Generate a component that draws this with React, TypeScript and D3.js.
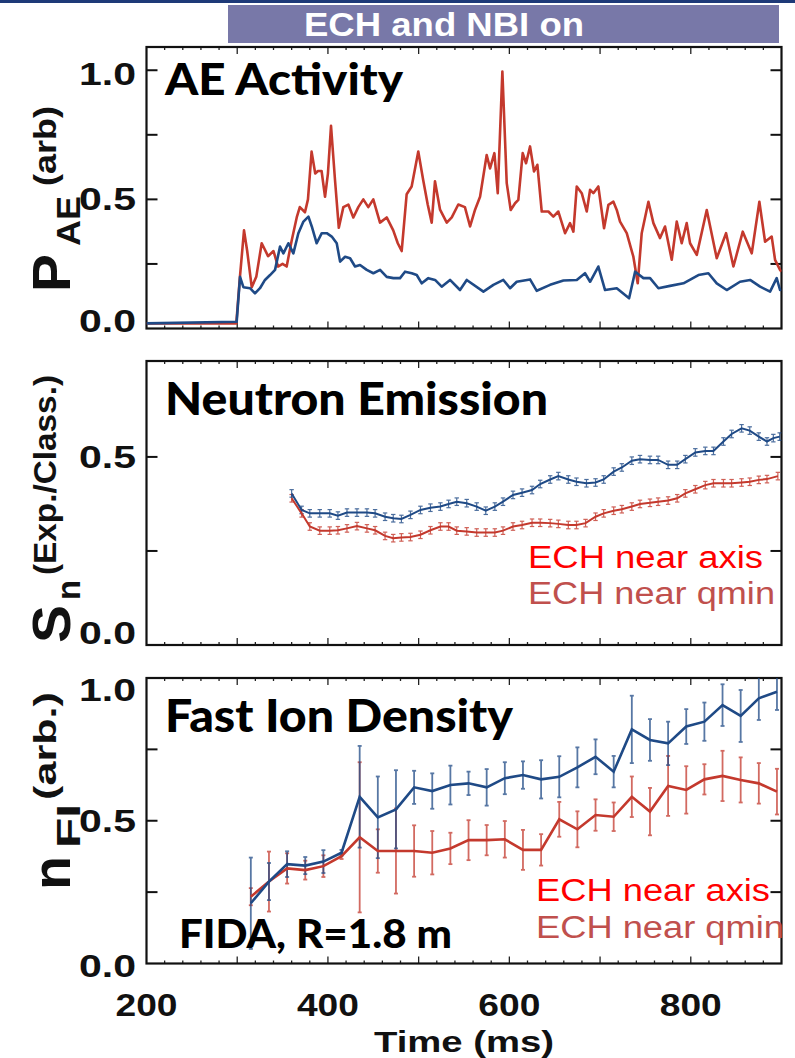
import React from "react";
import * as d3 from "d3";

// ---------- DATA ----------
// Panel 1: AE activity (arb)
const aeRedT = [200, 250, 299, 303, 307.5, 311, 316, 321, 327, 334, 340, 345, 350, 354.5, 360, 365.6, 369, 374.7, 378, 382, 386, 389, 393, 396.8, 400, 403.4, 407.8, 412, 417, 422.5, 428, 433.5, 439, 444.5, 450, 457.4, 464.8, 472, 477, 481.3, 486.8, 492.3, 499.6, 505, 510, 514.4, 518, 523.6, 531, 536.5, 543.7, 551, 556.7, 562.2, 567.7, 575, 578.7, 583.5, 587.2, 592.3, 597.1, 601.5, 606.3, 609.9, 614.7, 618.4, 622.8, 627.2, 630.9, 635.7, 643, 648.5, 654, 661.4, 666.9, 670.6, 674.3, 679.8, 685.3, 689, 692.6, 698.1, 704.4, 709.2, 714.7, 718.4, 722, 729.4, 736.7, 741.5, 745.9, 753.3, 758.8, 766.1, 771.6, 779, 784.5, 790, 795.5, 799.2, 806.6, 817.6, 828.6, 838.9, 847, 857.3, 867.2, 875.6, 881.9, 889.2, 892.9, 898.4, 900];
const aeRedV = [0.02, 0.02, 0.02, 0.2, 0.38, 0.3, 0.16, 0.2, 0.33, 0.28, 0.3, 0.24, 0.25, 0.24, 0.34, 0.43, 0.47, 0.45, 0.5, 0.685, 0.6, 0.61, 0.61, 0.51, 0.6, 0.785, 0.575, 0.39, 0.47, 0.48, 0.43, 0.47, 0.5, 0.47, 0.5, 0.41, 0.43, 0.38, 0.33, 0.3, 0.52, 0.55, 0.685, 0.575, 0.48, 0.41, 0.57, 0.46, 0.41, 0.43, 0.48, 0.47, 0.395, 0.46, 0.51, 0.672, 0.62, 0.679, 0.524, 0.995, 0.563, 0.459, 0.485, 0.498, 0.679, 0.64, 0.705, 0.608, 0.634, 0.453, 0.453, 0.433, 0.453, 0.369, 0.408, 0.375, 0.55, 0.524, 0.453, 0.537, 0.524, 0.55, 0.388, 0.479, 0.491, 0.459, 0.414, 0.369, 0.278, 0.175, 0.369, 0.491, 0.408, 0.35, 0.395, 0.266, 0.414, 0.33, 0.408, 0.33, 0.285, 0.459, 0.272, 0.369, 0.24, 0.375, 0.291, 0.491, 0.336, 0.356, 0.266, 0.227, 0.22];
const aeBlueT = [200, 299.4, 303.1, 306.8, 314.1, 319.6, 325.1, 330.6, 336.2, 341.7, 347.2, 350.9, 356.4, 361.9, 367.4, 373, 378.5, 382.2, 387.6, 393.2, 398.7, 404.2, 409.7, 413.4, 418.9, 424.4, 429.9, 435.4, 442.8, 450.1, 457.5, 464.8, 472.2, 479.5, 485, 492.4, 497.9, 503.4, 510.7, 518.1, 525.4, 534.6, 545.6, 553, 571.4, 582.4, 593.4, 600.8, 608.1, 622.8, 630.2, 644.9, 659.6, 674.3, 683.4, 689, 698.1, 705.5, 718.4, 732, 738.6, 747.8, 755.1, 764.3, 777.1, 791.9, 808.4, 819.4, 828.6, 839.6, 854.3, 865.4, 876.4, 887.4, 894.7, 898.4, 900];
const aeBlueV = [0.02, 0.026, 0.2, 0.16, 0.156, 0.136, 0.156, 0.188, 0.207, 0.227, 0.317, 0.291, 0.33, 0.291, 0.369, 0.414, 0.433, 0.395, 0.33, 0.369, 0.369, 0.356, 0.33, 0.259, 0.278, 0.272, 0.24, 0.246, 0.227, 0.214, 0.227, 0.2, 0.195, 0.195, 0.22, 0.214, 0.207, 0.175, 0.195, 0.188, 0.162, 0.188, 0.149, 0.188, 0.143, 0.169, 0.188, 0.156, 0.181, 0.19, 0.146, 0.169, 0.186, 0.188, 0.214, 0.181, 0.24, 0.149, 0.156, 0.117, 0.22, 0.195, 0.195, 0.156, 0.165, 0.175, 0.207, 0.214, 0.175, 0.149, 0.181, 0.188, 0.162, 0.143, 0.195, 0.149, 0.15];

// Panel 2: neutron emission S_n (Exp./Class.)
const snBlueT = [360, 371, 380, 391, 402, 411, 421, 432, 443, 452, 463, 472, 481, 491, 502, 513, 524, 533, 542, 553, 564, 574, 584, 593, 604, 614, 625, 634, 645, 654, 665, 674, 685, 695, 704, 715, 724, 735, 744, 755, 764, 775, 785, 794, 805, 816, 825, 836, 845, 856, 865, 875, 884, 891, 898];
const snBlueV = [0.403, 0.359, 0.35, 0.35, 0.35, 0.344, 0.352, 0.352, 0.352, 0.35, 0.341, 0.337, 0.335, 0.346, 0.359, 0.365, 0.368, 0.375, 0.381, 0.377, 0.368, 0.357, 0.368, 0.381, 0.399, 0.405, 0.412, 0.428, 0.44, 0.449, 0.44, 0.434, 0.43, 0.432, 0.44, 0.461, 0.472, 0.49, 0.494, 0.492, 0.492, 0.479, 0.479, 0.494, 0.512, 0.516, 0.516, 0.541, 0.561, 0.576, 0.57, 0.554, 0.541, 0.55, 0.554];
const snRedT = [360, 371, 380, 391, 402, 411, 421, 432, 443, 452, 463, 472, 481, 491, 502, 513, 524, 533, 542, 553, 564, 574, 584, 593, 604, 614, 625, 634, 645, 654, 665, 674, 684, 695, 704, 715, 724, 735, 744, 755, 764, 775, 785, 794, 805, 816, 825, 836, 845, 856, 865, 875, 884, 896];
const snRedV = [0.39, 0.35, 0.315, 0.304, 0.304, 0.305, 0.31, 0.316, 0.31, 0.305, 0.29, 0.284, 0.286, 0.287, 0.293, 0.305, 0.315, 0.315, 0.304, 0.302, 0.299, 0.299, 0.299, 0.304, 0.315, 0.319, 0.325, 0.325, 0.324, 0.322, 0.319, 0.319, 0.324, 0.341, 0.35, 0.357, 0.361, 0.368, 0.375, 0.378, 0.381, 0.384, 0.39, 0.403, 0.414, 0.425, 0.43, 0.43, 0.43, 0.432, 0.434, 0.439, 0.441, 0.449];
const snErr = 0.01;

// Panel 3: fast ion density (FIDA)
const fiT = [315, 335, 355, 375, 395, 415, 435, 455, 475, 495, 515, 535, 555, 575, 595, 615, 635, 655, 675, 695, 715, 735, 755, 775, 795, 815, 835, 855, 875, 895];
const fiBlueV = [0.211, 0.287, 0.348, 0.343, 0.357, 0.388, 0.584, 0.512, 0.54, 0.617, 0.604, 0.625, 0.631, 0.617, 0.649, 0.66, 0.645, 0.654, 0.687, 0.724, 0.672, 0.82, 0.783, 0.771, 0.83, 0.847, 0.905, 0.867, 0.929, 0.952];
const fiBlueE = [0.16, 0.065, 0.045, 0.03, 0.04, 0.01, 0.178, 0.143, 0.137, 0.058, 0.062, 0.068, 0.041, 0.064, 0.056, 0.048, 0.067, 0.072, 0.07, 0.061, 0.055, 0.118, 0.073, 0.076, 0.061, 0.067, 0.073, 0.091, 0.076, 0.064];
const fiRedV = [0.234, 0.287, 0.333, 0.327, 0.341, 0.376, 0.442, 0.394, 0.394, 0.394, 0.388, 0.403, 0.432, 0.432, 0.435, 0.398, 0.398, 0.505, 0.47, 0.52, 0.514, 0.584, 0.532, 0.622, 0.608, 0.645, 0.657, 0.643, 0.631, 0.602];
const fiRedE = [0.03, 0.105, 0.053, 0.033, 0.038, 0.01, 0.263, 0.076, 0.149, 0.09, 0.076, 0.055, 0.07, 0.053, 0.064, 0.07, 0.055, 0.061, 0.063, 0.055, 0.05, 0.071, 0.083, 0.105, 0.083, 0.053, 0.088, 0.079, 0.071, 0.08];

const xTickLabels = [200, 400, 600, 800];
const p1YLabels = [0, 0.5, 1.0];
const p2YLabels = [0, 0.5];
const p3YLabels = [0, 0.5, 1.0];

// ---------- STYLE ----------
const RED = "#c4392d";
const BLUE = "#1f4a86";
const W = 795;
const H = 1058;
const X0 = 146.5;
const X1 = 781.5;
const ARIAL = "Liberation Sans, Arial, sans-serif";
const TITLE = "Lato, 'Open Sans', sans-serif";

const x = d3.scaleLinear().domain([200, 900]).range([X0, X1]);

type Panel = { top: number; bottom: number; ymax: number; yTicks: number[]; labels: number[]; labelDy: number[] };

const panels: Panel[] = [
  { top: 47, bottom: 328.5, ymax: 1.09, yTicks: [0.25, 0.5, 0.75, 1.0], labels: p1YLabels, labelDy: [-8, 0, 4] },
  { top: 361, bottom: 645, ymax: 0.755, yTicks: [0.25, 0.5], labels: p2YLabels, labelDy: [-12, 0] },
  { top: 678, bottom: 963.5, ymax: 1.0, yTicks: [0.25, 0.5, 0.75], labels: p3YLabels, labelDy: [2, 0, 12] },
];

function Frame({ p, id }: { p: Panel; id: string }) {
  const y = d3.scaleLinear().domain([0, p.ymax]).range([p.bottom, p.top]);
  const xt = d3.range(220, 900, 20);
  return (
    <g>
      <defs>
        <clipPath id={id}>
          <rect x={X0} y={p.top} width={X1 - X0} height={p.bottom - p.top} />
        </clipPath>
      </defs>
      {xt.map((t) => {
        const len = t % 100 === 0 ? 7 : 3;
        return (
          <g key={t} stroke="#222" strokeWidth={1.3}>
            <line x1={x(t)} x2={x(t)} y1={p.top} y2={p.top + len} />
            <line x1={x(t)} x2={x(t)} y1={p.bottom} y2={p.bottom - len} />
          </g>
        );
      })}
      {p.yTicks.map((v) => (
        <g key={v} stroke="#111" strokeWidth={2}>
          <line x1={X0} x2={X0 + 11} y1={y(v)} y2={y(v)} />
          <line x1={X1} x2={X1 - 11} y1={y(v)} y2={y(v)} />
        </g>
      ))}
      <rect x={X0} y={p.top} width={X1 - X0} height={p.bottom - p.top} fill="none" stroke="#111" strokeWidth={2.2} />
      {p.labels.map((v, i) => (
        <text
          key={v}
          x={136}
          y={y(v) + 11 + p.labelDy[i]}
          textAnchor="end"
          fontFamily={ARIAL}
          fontWeight="bold"
          fontSize={31}
          textLength={57}
          lengthAdjust="spacingAndGlyphs"
          fill="#111"
        >
          {v.toFixed(1)}
        </text>
      ))}
    </g>
  );
}

function ErrLine({ t, v, e, y, color, w, cap, op }: { t: number[]; v: number[]; e: number[]; y: d3.ScaleLinear<number, number>; color: string; w: number; cap: number; op: number }) {
  return (
    <g stroke={color} strokeWidth={w} opacity={op}>
      {t.map((ti, i) => (
        <g key={i}>
          <line x1={x(ti)} x2={x(ti)} y1={y(v[i] - e[i])} y2={y(v[i] + e[i])} />
          <line x1={x(ti) - cap} x2={x(ti) + cap} y1={y(v[i] - e[i])} y2={y(v[i] - e[i])} />
          <line x1={x(ti) - cap} x2={x(ti) + cap} y1={y(v[i] + e[i])} y2={y(v[i] + e[i])} />
        </g>
      ))}
    </g>
  );
}

// rotated text piece: (bx = baseline x, sy = start y at bottom, len = length upward)
function RotText({ bx, sy, len, size, children }: { bx: number; sy: number; len: number; size: number; children: React.ReactNode }) {
  return (
    <text
      transform={`translate(${bx},${sy}) rotate(-90)`}
      fontFamily={ARIAL}
      fontWeight="bold"
      fontSize={size}
      textLength={len}
      lengthAdjust="spacingAndGlyphs"
      fill="#111"
    >
      {children}
    </text>
  );
}

export default function App() {
  const [p1, p2, p3] = panels;
  const y1 = d3.scaleLinear().domain([0, p1.ymax]).range([p1.bottom, p1.top]);
  const y2 = d3.scaleLinear().domain([0, p2.ymax]).range([p2.bottom, p2.top]);
  const y3 = d3.scaleLinear().domain([0, p3.ymax]).range([p3.bottom, p3.top]);

  const mk = (ys: d3.ScaleLinear<number, number>) =>
    d3
      .line<[number, number]>()
      .x((d) => x(d[0]))
      .y((d) => ys(d[1]));
  const zip = (a: number[], b: number[]) => a.map((t, i) => [t, b[i]] as [number, number]);

  return (
    <svg width={W} height={H} style={{ position: "absolute", left: 0, top: 0, background: "#fff" }}>
      <rect x={0} y={0} width={W} height={H} fill="#fff" />
      <rect x={0} y={0} width={W} height={3} fill="#1e3a78" />
      <rect x={228} y={5} width={551} height={38} fill="#7878a8" />
      <text x={444} y={36} textAnchor="middle" fill="#fff" fontFamily={ARIAL} fontWeight="bold" fontSize={33} textLength={280} lengthAdjust="spacingAndGlyphs">
        ECH and NBI on
      </text>

      {/* Panel 1 */}
      <Frame p={p1} id="c1" />
      <g clipPath="url(#c1)" fill="none" strokeWidth={2.6} strokeLinejoin="round">
        <path d={mk(y1)(zip(aeRedT, aeRedV)) || ""} stroke={RED} />
        <path d={mk(y1)(zip(aeBlueT, aeBlueV)) || ""} stroke={BLUE} />
      </g>
      <text x={165} y={95} fontFamily={TITLE} fontWeight={900} fontSize={44} textLength={238} lengthAdjust="spacingAndGlyphs" fill="#000">
        AE Activity
      </text>

      {/* Panel 2 */}
      <Frame p={p2} id="c2" />
      <g clipPath="url(#c2)" fill="none">
        <ErrLine t={snRedT} v={snRedV} e={snRedT.map(() => snErr)} y={y2} color={RED} w={1.2} cap={2.2} op={0.8} />
        <ErrLine t={snBlueT} v={snBlueV} e={snBlueT.map(() => snErr)} y={y2} color={BLUE} w={1.2} cap={2.2} op={0.8} />
        <path d={mk(y2)(zip(snRedT, snRedV)) || ""} stroke={RED} strokeWidth={2} />
        <path d={mk(y2)(zip(snBlueT, snBlueV)) || ""} stroke={BLUE} strokeWidth={2} />
      </g>
      <text x={165} y={415} fontFamily={TITLE} fontWeight={900} fontSize={46} textLength={383} lengthAdjust="spacingAndGlyphs" fill="#000">
        Neutron Emission
      </text>
      <text x={528} y={568} fontFamily={ARIAL} fontSize={31} textLength={235} lengthAdjust="spacingAndGlyphs" fill="#ff0000">
        ECH near axis
      </text>
      <text x={528} y={604} fontFamily={ARIAL} fontSize={31} textLength={247} lengthAdjust="spacingAndGlyphs" fill="#c0504d">
        ECH near qmin
      </text>

      {/* Panel 3 */}
      <Frame p={p3} id="c3" />
      <g clipPath="url(#c3)" fill="none">
        <ErrLine t={fiT} v={fiRedV} e={fiRedE} y={y3} color={RED} w={1.8} cap={2} op={0.75} />
        <ErrLine t={fiT} v={fiBlueV} e={fiBlueE} y={y3} color={BLUE} w={1.8} cap={2} op={0.75} />
        <path d={mk(y3)(zip(fiT, fiRedV)) || ""} stroke={RED} strokeWidth={2.6} />
        <path d={mk(y3)(zip(fiT, fiBlueV)) || ""} stroke={BLUE} strokeWidth={2.6} />
      </g>
      <text x={165} y={732} fontFamily={TITLE} fontWeight={900} fontSize={46} textLength={348} lengthAdjust="spacingAndGlyphs" fill="#000">
        Fast Ion Density
      </text>
      <text x={179} y={948} fontFamily={TITLE} fontWeight={900} fontSize={40} textLength={273} lengthAdjust="spacingAndGlyphs" fill="#000">
        FIDA, R=1.8 m
      </text>
      <text x={536} y={901} fontFamily={ARIAL} fontSize={31} textLength={234} lengthAdjust="spacingAndGlyphs" fill="#ff0000">
        ECH near axis
      </text>
      <text x={536} y={938} fontFamily={ARIAL} fontSize={31} textLength={248} lengthAdjust="spacingAndGlyphs" fill="#c0504d">
        ECH near qmin
      </text>

      {/* X axis labels */}
      {xTickLabels.map((t) => (
        <text key={t} x={x(t)} y={1016} textAnchor="middle" fontFamily={ARIAL} fontWeight="bold" fontSize={32} textLength={62} lengthAdjust="spacingAndGlyphs" fill="#111">
          {t}
        </text>
      ))}
      <text x={464} y={1052} textAnchor="middle" fontFamily={ARIAL} fontWeight="bold" fontSize={30} textLength={180} lengthAdjust="spacingAndGlyphs" fill="#111">
        Time (ms)
      </text>

      {/* Y axis titles */}
      <RotText bx={70} sy={292} len={38} size={54}>P</RotText>
      <RotText bx={80} sy={246} len={50} size={34}>AE</RotText>
      <RotText bx={56} sy={186} len={80} size={32}>(arb)</RotText>

      <RotText bx={70} sy={643} len={38} size={54}>S</RotText>
      <RotText bx={80} sy={600} len={20} size={34}>n</RotText>
      <RotText bx={56} sy={575} len={200} size={32}>(Exp./Class.)</RotText>

      <RotText bx={70} sy={890} len={34} size={54}>n</RotText>
      <RotText bx={80} sy={848} len={44} size={34}>FI</RotText>
      <RotText bx={56} sy={800} len={108} size={32}>(arb.)</RotText>
    </svg>
  );
}
